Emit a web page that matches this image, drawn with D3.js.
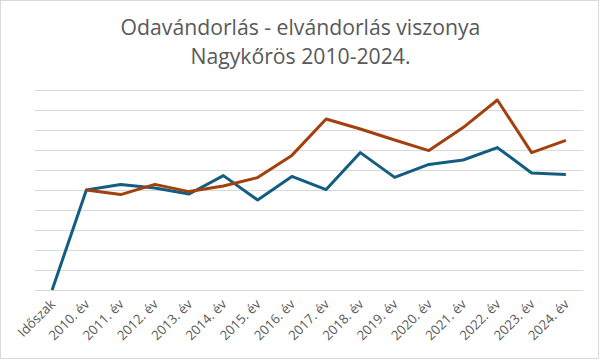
<!DOCTYPE html>
<html><head><meta charset="utf-8">
<script src="https://cdn.jsdelivr.net/npm/d3@7"></script>
<style>body{margin:0;background:#fff}svg{display:block}</style>
</head><body>
<script>
const categories = ["Időszak","2010. év","2011. év","2012. év","2013. év","2014. év","2015. év","2016. év","2017. év","2018. év","2019. év","2020. év","2021. év","2022. év","2023. év","2024. év"];
const seriesBlue = [0,5.0,5.27,5.1,4.8,5.72,4.5,5.68,5.02,6.87,5.63,6.28,6.5,7.12,5.85,5.78];
const seriesRed = [null,5.0,4.77,5.28,4.92,5.2,5.62,6.73,8.55,8.05,7.5,6.97,8.12,9.5,6.87,7.48];
const yTicks = [0,1,2,3,4,5,6,7,8,9,10];
const titleLines = ["Odavándorlás - elvándorlás viszonya","Nagykőrös 2010-2024."];

const W=601,H=361;
const svg=d3.select("body").append("svg").attr("width",W).attr("height",H);
svg.append("rect").attr("x",0.5).attr("y",0.5).attr("width",598).attr("height",358)
  .attr("fill","#fff").attr("stroke","#d9d9d9").attr("stroke-width",1);

const x=d3.scaleBand().domain(categories).range([35,583]);
const y=d3.scaleLinear().domain([0,10]).range([290,90]);
const cx=d=>x(d)+x.bandwidth()/2;

svg.append("g").selectAll("line").data(yTicks).join("line")
  .attr("x1",35).attr("x2",583)
  .attr("y1",d=>Math.round(y(d))+0.5).attr("y2",d=>Math.round(y(d))+0.5)
  .attr("stroke","#d9d9d9").attr("stroke-width",1);

const ff="'Open Sans','Noto Sans',sans-serif";
svg.append("g").selectAll("text").data(titleLines).join("text")
  .attr("x",300.5).attr("y",(d,i)=>35+i*28.5).attr("text-anchor","middle")
  .attr("font-family",ff).attr("font-size",21.2).attr("fill","#595959").text(d=>d);

svg.append("g").selectAll("text").data(categories).join("text")
  .attr("transform",d=>`translate(${cx(d)+4},${305}) rotate(-45)`)
  .attr("text-anchor","end").attr("font-family",ff).attr("font-size",13.2)
  .attr("fill","#595959").text(d=>d);

const line=d3.line().defined(d=>d.v!=null).x(d=>cx(d.c)).y(d=>y(d.v));
svg.append("path").datum(categories.map((c,i)=>({c,v:seriesBlue[i]})))
  .attr("d",line).attr("fill","none").attr("stroke","#135e80").attr("stroke-width",3).attr("stroke-linejoin","round");
svg.append("path").datum(categories.map((c,i)=>({c,v:seriesRed[i]})))
  .attr("d",line).attr("fill","none").attr("stroke","#a3410e").attr("stroke-width",3).attr("stroke-linejoin","round");
</script>
</body></html>
